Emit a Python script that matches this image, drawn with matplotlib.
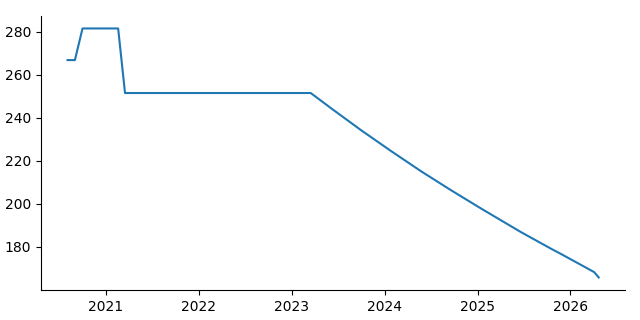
import pandas as pd
import numpy as np
import matplotlib
matplotlib.use('Agg')
import matplotlib.pyplot as plt

# Values
dates = ['2020-08-03', '2020-09-01', '2020-10-01', '2021-02-18', '2021-03-17',
         '2023-03-17', '2023-06-03', '2023-09-30', '2024-01-26', '2024-05-23',
         '2024-09-19', '2025-01-15', '2025-06-20', '2025-10-19', '2025-11-25',
         '2026-04-04', '2026-04-22']
values = [266.8, 266.8, 281.5, 281.5, 251.5,
          251.5, 244.6, 234.3, 224.6, 215.2,
          206.3, 197.8, 186.9, 179.0, 176.7,
          168.3, 165.8]


def main():
    x = pd.to_datetime(dates)
    y = np.array(values)

    fig, ax = plt.subplots(figsize=(6.4, 3.2), dpi=100)
    ax.plot(x, y, color='#1f77b4', linewidth=1.5)

    ax.spines['top'].set_visible(False)
    ax.spines['right'].set_visible(False)
    ax.set_yticks([180, 200, 220, 240, 260, 280])

    fig.subplots_adjust(left=0.064, right=0.977, bottom=0.094, top=0.95)
    fig.savefig('out.png', dpi=100)


if __name__ == '__main__':
    main()
